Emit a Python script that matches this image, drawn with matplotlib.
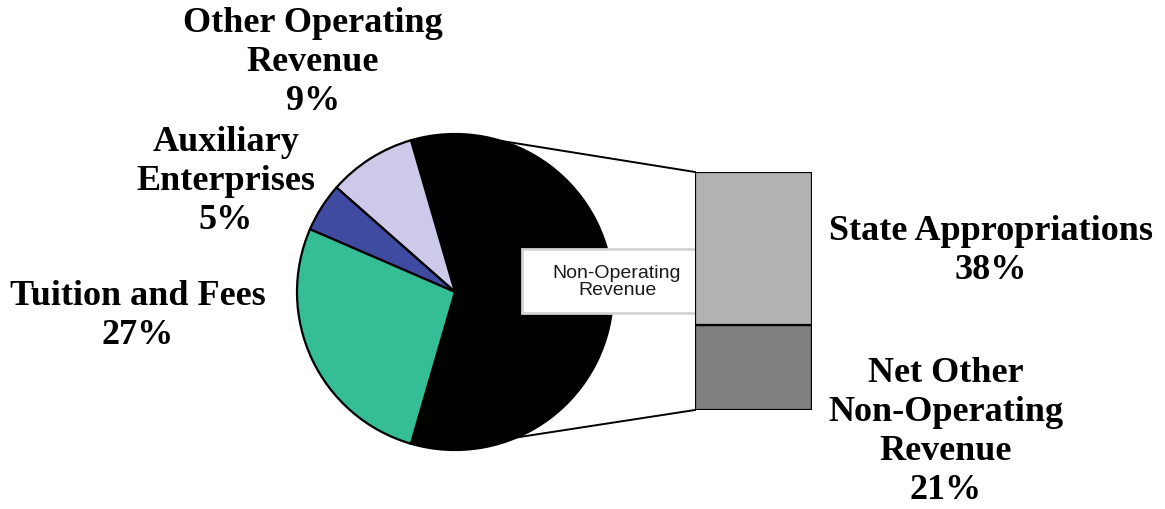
import numpy as np
import matplotlib
matplotlib.use("Agg")
import matplotlib.pyplot as plt
from matplotlib.patches import Rectangle

# Revenue composition (percent of total)
pie_labels = ["Non-Operating Revenue", "Other Operating Revenue",
              "Auxiliary Enterprises", "Tuition and Fees"]
pie_values = [59, 9, 5, 27]
pie_colors = ["#000000", "#CCCAE8", "#3F4BA0", "#35BD95"]

# Breakdown of non-operating revenue (bottom to top in the bar)
bar_labels = ["Net Other\nNon-Operating\nRevenue", "State Appropriations"]
bar_values = [21, 38]
bar_colors = ["#808080", "#B2B2B2"]

W, H = 1165, 509
fig = plt.figure(figsize=(W / 100, H / 100), dpi=100)
fig.patch.set_facecolor("white")

# main axes in pixel units (y measured upward from the bottom)
ax = fig.add_axes([0, 0, 1, 1])
cx, cy, r = 455, H - 292, 158
start = -pie_values[0] / 100 * 360 / 2
ax.pie(pie_values, colors=pie_colors, startangle=start, counterclock=True,
       center=(cx, cy), radius=r,
       wedgeprops=dict(edgecolor="black", linewidth=1.6))
ax.set_xlim(0, W)
ax.set_ylim(0, H)
ax.set_aspect("equal")
ax.axis("off")

# stacked bar for the non-operating breakdown
bx0, bx1, by_top, by_bot = 695, 812, 172, 410
bax = fig.add_axes([bx0 / W, (H - by_bot) / H, (bx1 - bx0) / W, (by_bot - by_top) / H])
bottom = 0
for v, c in zip(bar_values, bar_colors):
    bax.bar(0, v, bottom=bottom, width=1.0, color=c, edgecolor="black", linewidth=1.6)
    bottom += v
bax.set_xlim(-0.5, 0.5)
bax.set_ylim(0, sum(bar_values))
bax.axis("off")

# connector lines from the pie to the bar
a_top, a_bot = np.deg2rad(73), np.deg2rad(-67)
ax.plot([cx + r * np.cos(a_top), bx0], [cy + r * np.sin(a_top), H - by_top],
        color="black", lw=1.4)
ax.plot([cx + r * np.cos(a_bot), bx0], [cy + r * np.sin(a_bot), H - by_bot],
        color="black", lw=1.4)

# label box on the non-operating wedge
ax.add_patch(Rectangle((522, H - 313), 190, 64, facecolor="white",
                       edgecolor="#d4d4d4", linewidth=2, zorder=5))
ax.text(617, H - 282, "Non-Operating\nRevenue", ha="center", va="center",
        fontsize=14, family="Liberation Sans", color="#1a1a1a", linespacing=0.95,
        zorder=6)

serif = dict(family="Liberation Serif", weight="bold", fontsize=26,
             ha="center", va="center", linespacing=1.24, color="black")

ax.text(313, H - 62, f"Other Operating\nRevenue\n{pie_values[1]}%", **serif)
ax.text(226, H - 181, f"Auxiliary\nEnterprises\n{pie_values[2]}%", **serif)
ax.text(138, H - 316, f"Tuition and Fees\n{pie_values[3]}%", **serif)
ax.text(991, H - 251, f"{bar_labels[1]}\n{bar_values[1]}%", **serif)
ax.text(946, H - 432, f"{bar_labels[0]}\n{bar_values[0]}%", **serif)

fig.savefig("out.png", dpi=100, facecolor="white")
